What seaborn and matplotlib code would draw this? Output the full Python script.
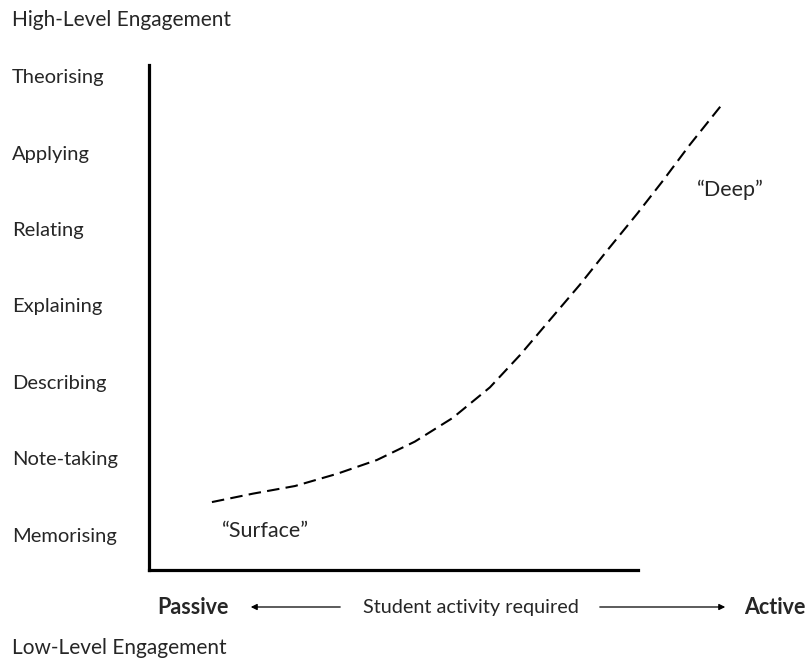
import matplotlib
matplotlib.use("Agg")
import matplotlib.pyplot as plt
import seaborn as sns
import pandas as pd

# engagement levels, bottom to top
levels = ["Memorising", "Note-taking", "Describing", "Explaining",
          "Relating", "Applying", "Theorising"]

# dashed curve (activity 0-100, level index)
activity = [10.3, 17.0, 23.9, 30.8, 37.3, 43.5, 49.7, 55.8,
            60.7, 65.6, 70.5, 75.1, 79.9, 84.1, 88.5, 93.8]
engagement = [0.43, 0.54, 0.64, 0.80, 0.98, 1.22, 1.53, 1.93,
              2.35, 2.81, 3.27, 3.73, 4.20, 4.63, 5.10, 5.63]

df = pd.DataFrame({"activity": activity, "engagement": engagement})

sns.set_style("white")
plt.rcParams["font.family"] = ["Lato", "DejaVu Sans"]

W, H = 809, 660
fig = plt.figure(figsize=(W / 100, H / 100), dpi=100)
ax = fig.add_axes([149 / W, (H - 570) / H, (760 - 149) / W, (570 - 65) / H])

sns.lineplot(data=df, x="activity", y="engagement", ax=ax, color="black",
             lw=1.5, linestyle=(0, (6, 3)), clip_on=False)

ax.set_xlim(0, 100)
ax.set_ylim(-0.458, 6.144)
ax.set_xlabel("")
ax.set_ylabel("")
ax.set_xticks([])
ax.set_yticks(range(len(levels)), levels)
ax.tick_params(axis="y", length=0, pad=98.6, labelsize=14.5)
for lab in ax.get_yticklabels():
    lab.set_horizontalalignment("left")

for s in ["top", "right"]:
    ax.spines[s].set_visible(False)
for s in ["left", "bottom"]:
    ax.spines[s].set_linewidth(2.3)
    ax.spines[s].set_color("black")
ax.spines["bottom"].set_bounds(0, 80)

ax.text(95.1, 4.51, "\u201cDeep\u201d", ha="center", va="center", fontsize=15.5)
ax.text(19.1, 0.05, "\u201cSurface\u201d", ha="center", va="center", fontsize=15.5)

fig.text(12 / W, 1 - 20 / H, "High-Level Engagement", ha="left", va="center", fontsize=15)
fig.text(12 / W, 1 - 648 / H, "Low-Level Engagement", ha="left", va="center", fontsize=15)

ybot = 1 - 607 / H
fig.text(193 / W, ybot, "Passive", ha="center", va="center", fontsize=15.5, fontweight="bold")
fig.text(775 / W, ybot, "Active", ha="center", va="center", fontsize=15.5, fontweight="bold")
fig.text(471 / W, ybot, "Student activity required", ha="center", va="center", fontsize=14.3)

arrow = dict(arrowstyle="-|>", color="black", lw=0.9, mutation_scale=9)
ax.annotate("", xy=(248 / W, ybot), xytext=(343 / W, ybot),
            xycoords="figure fraction", textcoords="figure fraction", arrowprops=arrow)
ax.annotate("", xy=(728 / W, ybot), xytext=(597 / W, ybot),
            xycoords="figure fraction", textcoords="figure fraction", arrowprops=arrow)

fig.savefig("out.png", dpi=100)
